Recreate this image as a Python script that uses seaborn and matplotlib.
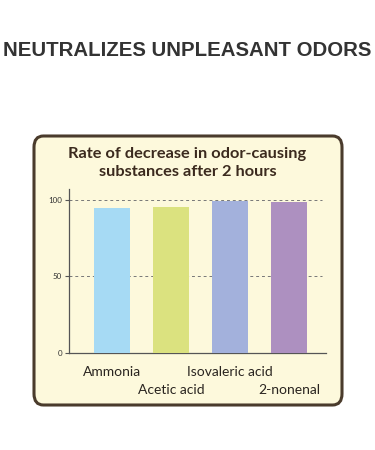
import matplotlib
matplotlib.use("Agg")
import matplotlib.pyplot as plt
import seaborn as sns
import pandas as pd
from matplotlib.patches import FancyBboxPatch

# data
substances = ["Ammonia", "Acetic acid", "Isovaleric acid", "2-nonenal"]
decrease_rate = [94.8, 95.0, 99.3, 98.2]
bar_colors = ["#a6daf4", "#dbe27f", "#a3b1dc", "#ad90c0"]
y_ticks = [0, 50, 100]

df = pd.DataFrame({"substance": substances, "rate": decrease_rate})

sns.set_style("white")
plt.rcParams["font.family"] = ["Lato", "DejaVu Sans"]

fig = plt.figure(figsize=(3.75, 4.5), dpi=100)
fig.patch.set_facecolor("white")

# rounded cream panel behind the chart
panel = FancyBboxPatch((34 / 375, 1 - 405 / 450), (342 - 34) / 375, (405 - 136) / 450,
                       boxstyle="round,pad=0,rounding_size=0.025",
                       transform=fig.transFigure, facecolor="#fdf9dc",
                       edgecolor="#4a3b2c", linewidth=2.2, zorder=-1)
fig.patches.append(panel)

fig.text(0.5, 1 - 50 / 450, "NEUTRALIZES UNPLEASANT ODORS", ha="center", va="center",
         fontsize=14.7, fontweight="bold", color="#333333", family="Liberation Sans")
fig.text(0.5, 1 - 163 / 450, "Rate of decrease in odor-causing\nsubstances after 2 hours",
         ha="center", va="center", fontsize=11.8, fontweight="bold", color="#3b2a1e",
         linespacing=1.35)

ax = fig.add_axes([69 / 375, 1 - 353 / 450, (326 - 69) / 375, (353 - 189) / 450])
ax.set_zorder(2)
ax.set_facecolor("none")
sns.barplot(data=df, x="substance", y="rate", hue="substance", palette=bar_colors,
            width=0.61, saturation=1, linewidth=0, legend=False, ax=ax, zorder=3)

ax.set_ylim(0, 107)
ax.set_xlim(-0.73, 3.63)
ax.set_yticks(y_ticks)
ax.set_yticklabels([str(t) for t in y_ticks], fontsize=5.8, color="#333333")
for t in [50, 100]:
    ax.axhline(t, color="#777777", linestyle=(0, (3, 3)), linewidth=0.7, zorder=1,
               xmax=0.985)

# staggered category labels: two rows
ax.set_xticks(range(len(substances)))
ax.set_xticklabels(substances, fontsize=10, color="#2a2520")
for i, tick in enumerate(ax.xaxis.get_major_ticks()):
    tick.set_pad(9 if i % 2 == 0 else 22.5)
ax.tick_params(axis="x", length=0)
ax.tick_params(axis="y", length=3, width=0.8, color="#555555", pad=2, left=True)
ax.set_xlabel("")
ax.set_ylabel("")

for side in ["top", "right"]:
    ax.spines[side].set_visible(False)
for side in ["left", "bottom"]:
    ax.spines[side].set_color("#555555")
    ax.spines[side].set_linewidth(0.9)

fig.savefig("out.png", dpi=100)
